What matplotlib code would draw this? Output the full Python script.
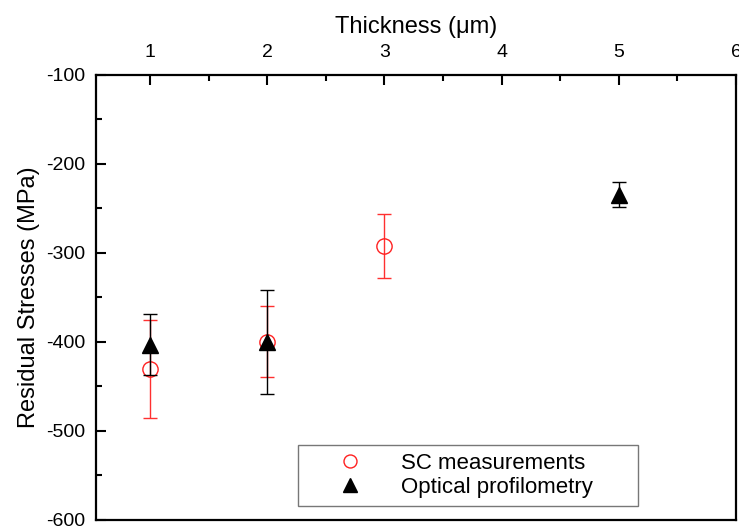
import numpy as np
import matplotlib.pyplot as plt
from matplotlib.ticker import MultipleLocator

plt.rcParams['font.family'] = ['Liberation Sans', 'DejaVu Sans']
plt.rcParams['axes.unicode_minus'] = False

# SC measurements (red open circles)
sc_x = [1, 2, 3]
sc_y = [-430, -400, -292]
sc_err = [55, 40, 36]

# Optical profilometry (black triangles)
op_x = [1, 2, 5]
op_y = [-403, -400, -235]
op_err = [34, 58, 14]

fig = plt.figure(figsize=(7.39, 5.27), dpi=100)
ax = fig.add_axes([0.130, 0.0133, 0.866, 0.845])

ax.errorbar(sc_x, sc_y, yerr=sc_err, fmt='o', mfc='none', mec='#ff2020', mew=1.0,
            ms=11, ecolor='#ff3030', elinewidth=1.0, capsize=5, capthick=1.0,
            label='SC measurements', zorder=3)
ax.errorbar(op_x, op_y, yerr=op_err, fmt='^', mfc='black', mec='black',
            ms=12, ecolor='black', elinewidth=1.0, capsize=5, capthick=1.0,
            label='Optical profilometry', zorder=4)

ax.set_xlim(0.54, 6.0)
ax.set_ylim(-600, -100)

ax.xaxis.set_ticks_position('top')
ax.xaxis.set_label_position('top')
ax.xaxis.set_major_locator(MultipleLocator(1))
ax.xaxis.set_minor_locator(MultipleLocator(0.5))
ax.yaxis.set_major_locator(MultipleLocator(100))
ax.yaxis.set_minor_locator(MultipleLocator(50))
ax.tick_params(which='both', direction='in', width=1.5, labelsize=14)
ax.tick_params(which='major', length=7)
ax.tick_params(which='minor', length=4)
ax.tick_params(axis='x', which='both', top=True, bottom=False, pad=10)
ax.tick_params(axis='y', which='both', left=True, right=False, pad=8)

for s in ax.spines.values():
    s.set_linewidth(1.6)

ax.set_xlabel('Thickness (\u03bcm)', fontsize=17, labelpad=8)
ax.set_ylabel('Residual Stresses (MPa)', fontsize=17, labelpad=4)

h, l = ax.get_legend_handles_labels()
h = [hh[0] for hh in h]
leg = ax.legend(h, l, loc='lower left', bbox_to_anchor=(0.298, 0.007, 0.566, 0.155),
                mode='expand', fontsize=16, frameon=True, fancybox=False,
                edgecolor='#555555', handletextpad=0.3, borderpad=0.35,
                labelspacing=0.15, markerscale=0.85, handlelength=4.0)
leg.get_frame().set_linewidth(1.0)

fig.savefig('out.png', dpi=100)
